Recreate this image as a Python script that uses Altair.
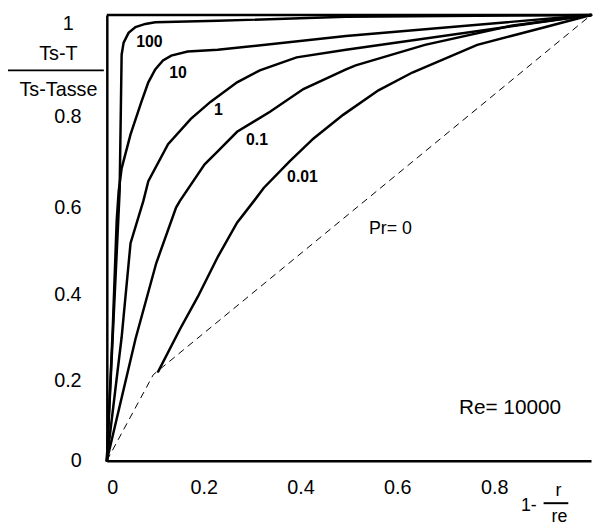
import altair as alt
import pandas as pd

# ---- data (x = 1 - r/re, y = (Ts-T)/(Ts-Tasse)) ----
pr_100_x = [0.0, 0.0265, 0.0306, 0.0347, 0.0449, 0.0592, 0.0796, 0.100, 0.229, 0.494, 1.0]
pr_100_y = [0.0, 0.605, 0.911, 0.938, 0.960, 0.973, 0.980, 0.984, 0.987, 0.996, 1.0]

pr_10_x = [0.0, 0.0122, 0.0204, 0.0245, 0.0306, 0.049, 0.0714, 0.0857, 0.100, 0.116, 0.133, 0.167, 0.229, 0.494, 1.0]
pr_10_y = [0.0, 0.295, 0.539, 0.605, 0.656, 0.732, 0.805, 0.849, 0.878, 0.898, 0.909, 0.918, 0.922, 0.953, 1.0]

pr_1_x = [0.0, 0.0306, 0.049, 0.0755, 0.0857, 0.1265, 0.1735, 0.214, 0.269, 0.316, 0.392, 0.494, 1.0]
pr_1_y = [0.0, 0.277, 0.488, 0.583, 0.627, 0.710, 0.767, 0.805, 0.849, 0.876, 0.905, 0.922, 1.0]

pr_01_x = [0.0, 0.0592, 0.102, 0.143, 0.151, 0.202, 0.229, 0.269, 0.337, 0.406, 0.494, 0.514, 0.657, 0.835, 1.0]
pr_01_y = [0.0, 0.273, 0.443, 0.568, 0.583, 0.665, 0.694, 0.738, 0.783, 0.834, 0.878, 0.887, 0.933, 0.976, 1.0]

pr_001_x = [0.106, 0.151, 0.188, 0.229, 0.269, 0.304, 0.324, 0.378, 0.427, 0.488, 0.561, 0.631, 0.765, 0.835, 0.916, 1.0]
pr_001_y = [0.200, 0.295, 0.368, 0.457, 0.534, 0.583, 0.612, 0.672, 0.723, 0.776, 0.831, 0.871, 0.933, 0.953, 0.976, 1.0]

pr_0_x = [0.0, 0.096, 0.106, 1.0]
pr_0_y = [0.0, 0.193, 0.202, 1.0]

x_ticks = [0, 0.2, 0.4, 0.6, 0.8]
y_ticks = [0, 0.2, 0.4, 0.6, 0.8, 1]

curve_names = ["100", "10", "1", "0.1", "0.01"]
curve_x = [pr_100_x, pr_10_x, pr_1_x, pr_01_x, pr_001_x]
curve_y = [pr_100_y, pr_10_y, pr_1_y, pr_01_y, pr_001_y]

rows = []
for name, xs, ys in zip(curve_names, curve_x, curve_y):
    for i, (a, b) in enumerate(zip(xs, ys)):
        rows.append({"pr": name, "i": i, "x": a, "y": b})
df = pd.DataFrame(rows)
df0 = pd.DataFrame({"pr": "0", "i": list(range(len(pr_0_x))), "x": pr_0_x, "y": pr_0_y})

FONT = "Liberation Sans"
xscale = alt.Scale(domain=[0, 1], nice=False, zero=False)
yscale = alt.Scale(domain=[0, 1], nice=False, zero=False)

axis_common = dict(grid=False, ticks=False, domainColor="black", domainWidth=2.5,
                   labelFont=FONT, labelFontSize=20, labelColor="black",
                   format="~g", title=None)

# the reference prints its y labels slightly below their tick positions
y_label_offset = {
    "condition": [
        {"test": "abs(datum.value - 1) < 0.01", "value": 9},
        {"test": "abs(datum.value - 0.8) < 0.01", "value": 13},
        {"test": "abs(datum.value - 0.6) < 0.01", "value": 14},
        {"test": "abs(datum.value - 0.4) < 0.01", "value": 12},
        {"test": "abs(datum.value - 0.2) < 0.01", "value": 9},
    ],
    "value": 0,
}
y_label_padding = {"condition": {"test": "abs(datum.value - 1) < 0.01", "value": 34}, "value": 26}

lines = alt.Chart(df).mark_line(color="black", strokeWidth=2.5, strokeCap="round").encode(
    x=alt.X("x:Q", scale=xscale, axis=alt.Axis(values=x_ticks, labelPadding=17, **axis_common)),
    y=alt.Y("y:Q", scale=yscale, axis=alt.Axis(values=y_ticks, labelFlush=False,
                                                labelOffset=y_label_offset,
                                                labelPadding=y_label_padding, **axis_common)),
    detail="pr:N",
    order="i:Q",
)

dashed = alt.Chart(df0).mark_line(color="black", strokeWidth=1, strokeDash=[7, 5]).encode(
    x=alt.X("x:Q", scale=xscale),
    y=alt.Y("y:Q", scale=yscale),
    order="i:Q",
)

top_border = alt.Chart(pd.DataFrame({"a": [0]})).mark_rule(color="black", strokeWidth=2.5).encode(
    x=alt.datum(0), x2=alt.datum(1), y=alt.datum(1)
)


def label(text, px, py, size=20, weight="normal", align="center"):
    return alt.Chart(pd.DataFrame({"t": [text]})).mark_text(
        font=FONT, fontSize=size, fontWeight=weight, color="black", align=align, baseline="middle"
    ).encode(text="t:N", x=alt.value(px), y=alt.value(py))


def hline(x1, x2, yv, w=2):
    return alt.Chart(pd.DataFrame({"a": [0]})).mark_rule(color="black", strokeWidth=w).encode(
        x=alt.value(x1), x2=alt.value(x2), y=alt.value(yv)
    )


annotations = [
    label("100", 43, 27, 16, "bold"),
    label("10", 72, 59, 16, "bold"),
    label("1", 113, 96, 16, "bold"),
    label("0.1", 152, 127, 16, "bold"),
    label("0.01", 198, 164, 16, "bold"),
    label("Pr= 0", 287, 217, 18),
    label("Re= 10000", 408, 398, 21),
    # y title as a fraction
    label("Ts-T", -49, 40, 20),
    hline(-100, -3, 56),
    label("Ts-Tasse", -49, 76, 20),
    # x title
    label("1-", 427, 497, 18),
    label("r", 457, 482, 18),
    hline(442, 467, 494),
    label("re", 458, 508, 18),
]

chart = alt.layer(lines, dashed, top_border, *annotations).properties(
    width=490, height=451,
    autosize=alt.AutoSizeParams(type="none"),
    padding={"left": 100, "top": 4, "right": 2, "bottom": 66},
).configure_view(stroke=None)

chart.save("out.html", embed_options={"renderer": "svg", "actions": False})
